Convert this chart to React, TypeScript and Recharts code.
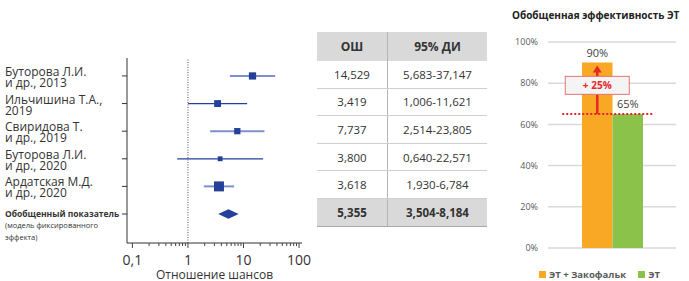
import React from 'react'
import {
  ComposedChart, XAxis, YAxis, Line, Scatter, Area, ReferenceLine,
  BarChart, Bar, CartesianGrid, LabelList,
} from 'recharts'

// forest plot
const studyNames = [
  ['Буторова Л.И.', 'и др., 2013'],
  ['Ильчишина Т.А.,', '2019'],
  ['Свиридова Т.', 'и др., 2019'],
  ['Буторова Л.И.', 'и др., 2020'],
  ['Ардатская М.Д.', 'и др., 2020'],
]
const pooledLabel = ['Обобщенный показатель', '(модель фиксированного', 'эффекта)']
const oddsRatios = [14.529, 3.419, 7.737, 3.8, 3.618]
const ciLow = [5.683, 1.006, 2.514, 0.64, 1.93]
const ciHigh = [37.147, 11.621, 23.805, 22.571, 6.784]
const studyWeights = [20, 18, 15, 9, 38]
const pooledOR = 5.355
const pooledLow = 3.504
const pooledHigh = 8.184
const orTicks = [0.1, 1, 10, 100]
const orMinorTicks = [0.2, 0.3, 0.4, 0.5, 0.6, 0.7, 0.8, 0.9, 2, 3, 4, 5, 6, 7, 8, 9, 20, 30, 40, 50, 60, 70, 80, 90]

// bar chart
const efficacyNames = ['ЭТ + Закофальк', 'ЭТ']
const efficacyValues = [90, 65]
const pctTicks = [0, 20, 40, 60, 80, 100]

const BLUE = '#24409a'
const ORANGE = '#f9a825'
const GREEN = '#8bc34a'
const RED = '#e8262a'
const FONT = '"Open Sans", sans-serif'

const rowIdx = [0, 1, 2, 3, 4, 5]
const pooledRow = studyNames.length
const studyPoints = oddsRatios.map((v, i) => ({ x: v, y: i, w: studyWeights[i] }))
const DIAMOND_H = 0.17
const diamondData = [
  { x: pooledLow, r: [pooledRow, pooledRow] },
  { x: pooledOR, r: [pooledRow - DIAMOND_H, pooledRow + DIAMOND_H] },
  { x: pooledHigh, r: [pooledRow, pooledRow] },
]

const fmt = (v: number) => v.toFixed(3).replace('.', ',')

const OrTick = (props: any) => {
  const { x, y, payload } = props
  const major = orTicks.includes(payload.value)
  return (
    <g>
      <line x1={x} x2={x} y1={y} y2={y + (major ? 5 : 3)} stroke="#444" />
      {major && (
        <text x={x} y={y + 22} textAnchor="middle" fontSize={14} fill="#333">
          {String(payload.value).replace('.', ',')}
        </text>
      )}
    </g>
  )
}

const RowTick = (props: any) => {
  const { y, payload } = props
  const i = payload.value
  if (i < studyNames.length) {
    return (
      <text fontSize={12} fill="#333">
        <tspan x={5} y={y}>{studyNames[i][0]}</tspan>
        <tspan x={5} y={y + 11}>{studyNames[i][1]}</tspan>
      </text>
    )
  }
  return (
    <text fill="#333">
      <tspan x={5} y={y + 3} fontSize={8.5} fontWeight={700}>{pooledLabel[0]}</tspan>
      <tspan x={5} y={y + 14} fontSize={7.5}>{pooledLabel[1]}</tspan>
      <tspan x={5} y={y + 26} fontSize={7.5}>{pooledLabel[2]}</tspan>
    </text>
  )
}

const WeightSquare = (props: any) => {
  const { cx, cy, payload } = props
  const s = Math.sqrt(payload.w) * 1.62
  return <rect x={cx - s / 2} y={cy - s / 2} width={s} height={s} fill={BLUE} />
}

// green bar + the "+25%" arrow drawn on top of both bars
const GreenBar = (props: any) => {
  const { x, y, width, height, fill } = props
  const [combo, base] = efficacyValues
  const perUnit = height / base
  const yTop = y + height - combo * perUnit
  const cx = x - width / 2
  const mid = (y + yTop) / 2 - 3
  return (
    <g>
      <rect x={x} y={y} width={width} height={height} fill={fill} />
      <line x1={cx - 35} x2={x + width + 11} y1={y} y2={y} stroke={RED} strokeWidth={2} strokeDasharray="2 2" />
      <line x1={cx} x2={cx} y1={y} y2={yTop + 9} stroke={RED} strokeWidth={2.5} />
      <polygon points={`${cx},${yTop + 3} ${cx - 4.5},${yTop + 10} ${cx + 4.5},${yTop + 10}`} fill={RED} />
      <rect x={cx - 32} y={mid - 9} width={64} height={18} fill="#f4f4f4" stroke="#e57373" />
      <text x={cx} y={mid + 3.5} textAnchor="middle" fontSize={10} fontWeight={700} fill={RED}>
        + {combo - base}%
      </text>
    </g>
  )
}

const cell: React.CSSProperties = {
  display: 'flex', alignItems: 'center', justifyContent: 'center', boxSizing: 'border-box',
}

export default function App() {
  const barData = [{ name: '', a: efficacyValues[0], b: efficacyValues[1] }]
  return (
    <div style={{ position: 'absolute', left: 0, top: 0, width: 689, height: 281, background: '#fff', fontFamily: FONT }}>
      <div style={{ position: 'absolute', left: 0, top: 0 }}>
        <ComposedChart width={316} height={281} margin={{ top: 58, right: 14, bottom: 0, left: 0 }}>
          <XAxis
            dataKey="x" type="number" scale="log" domain={[0.08, 113]} allowDataOverflow
            ticks={[...orTicks, ...orMinorTicks].sort((a, b) => a - b)} interval={0}
            tickSize={0} tickMargin={0} tick={<OrTick />} height={38} stroke="#333"
            label={{ value: 'Отношение шансов', position: 'insideBottom', offset: 2, fontSize: 12, fill: '#333' }}
          />
          <YAxis
            dataKey="y" type="number" domain={[-0.65, 6.05]} reversed allowDataOverflow
            ticks={rowIdx} interval={0} width={127} tickSize={5} tickMargin={2}
            tick={<RowTick />} stroke="#333"
          />
          <ReferenceLine x={1} stroke="#555" strokeDasharray="1 1.5" />
          {oddsRatios.map((_, i) => (
            <Line
              key={i} data={[{ x: ciLow[i], y: i }, { x: ciHigh[i], y: i }]} dataKey="y"
              stroke={i % 2 === 0 ? '#7f8fcc' : BLUE} strokeWidth={i % 2 === 0 ? 2 : 1.2}
              dot={false} isAnimationActive={false}
            />
          ))}
          <Scatter data={studyPoints} shape={<WeightSquare />} isAnimationActive={false} />
          <Area data={diamondData} dataKey="r" type="linear" fill={BLUE} fillOpacity={1} stroke="none" isAnimationActive={false} />
        </ComposedChart>
      </div>

      <div style={{ position: 'absolute', left: 317, top: 32, width: 170, fontSize: 11.5, color: '#333' }}>
        <div style={{ display: 'flex', height: 29, background: '#d9d9d9', fontWeight: 700, fontSize: 12 }}>
          <div style={{ ...cell, width: 71, borderRight: '1px solid #b5b5b5' }}>ОШ</div>
          <div style={{ ...cell, width: 99 }}>95% ДИ</div>
        </div>
        {rowIdx.map((i) => {
          const pooled = i === pooledRow
          const or = pooled ? pooledOR : oddsRatios[i]
          const lo = pooled ? pooledLow : ciLow[i]
          const hi = pooled ? pooledHigh : ciHigh[i]
          return (
            <div key={i} style={{
              display: 'flex', height: 27.6, boxSizing: 'border-box',
              borderBottom: pooled ? '1px solid #a8a8a8' : '1px solid #cfcfcf',
              background: pooled ? '#d9d9d9' : '#fff', fontWeight: pooled ? 700 : 400,
            }}>
              <div style={{ ...cell, width: 71, borderRight: '1px solid #b5b5b5' }}>{fmt(or)}</div>
              <div style={{ ...cell, width: 99 }}>{fmt(lo)}-{fmt(hi)}</div>
            </div>
          )
        })}
      </div>

      <div style={{ position: 'absolute', left: 512, top: 8, fontSize: 10, fontWeight: 700, color: '#222', whiteSpace: 'nowrap' }}>
        Обобщенная эффективность ЭТ
      </div>
      <div style={{ position: 'absolute', left: 500, top: 0 }}>
        <BarChart width={189} height={281} data={barData} margin={{ top: 42, right: 13, bottom: 33, left: 0 }} barGap={0}>
          <CartesianGrid vertical={false} stroke="#d9d9d9" strokeWidth={1.5} />
          <XAxis dataKey="name" hide />
          <YAxis
            domain={[0, 100]} ticks={pctTicks} width={48} axisLine={false} tickLine={false}
            tickSize={0} tickMargin={10} tickFormatter={(v) => `${v}%`}
            tick={{ fontSize: 9, fill: '#595959' }}
          />
          <Bar dataKey="a" name={efficacyNames[0]} fill={ORANGE} barSize={30.5} isAnimationActive={false}>
            <LabelList dataKey="a" position="top" offset={6} formatter={(v: any) => `${v}%`} style={{ fontSize: 11, fill: '#404040' }} />
          </Bar>
          <Bar dataKey="b" name={efficacyNames[1]} fill={GREEN} barSize={30.5} shape={<GreenBar />} isAnimationActive={false}>
            <LabelList dataKey="b" position="top" offset={6} formatter={(v: any) => `${v}%`} style={{ fontSize: 11, fill: '#404040' }} />
          </Bar>
        </BarChart>
      </div>
      <div style={{ position: 'absolute', left: 539, top: 268, display: 'flex', alignItems: 'center', fontSize: 9.5, fontWeight: 700, color: '#595959', whiteSpace: 'nowrap' }}>
        <span style={{ width: 7, height: 7, background: ORANGE, marginRight: 3 }} />
        <span>{efficacyNames[0]}</span>
        <span style={{ width: 7, height: 7, background: GREEN, marginLeft: 12, marginRight: 3 }} />
        <span>{efficacyNames[1]}</span>
      </div>
    </div>
  )
}
